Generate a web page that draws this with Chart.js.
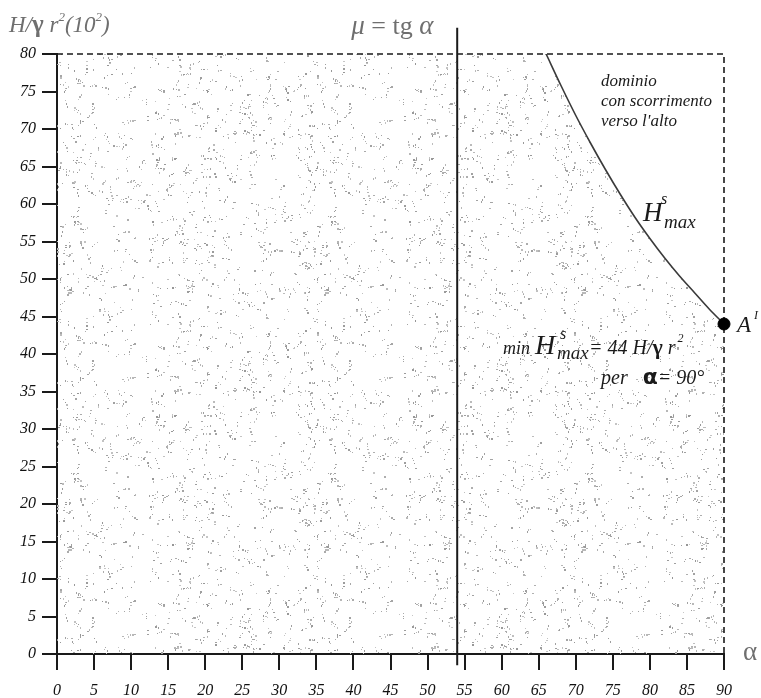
<!DOCTYPE html>
<html>
<head>
<meta charset="utf-8">
<script src="https://cdn.jsdelivr.net/npm/chart.js@4/dist/chart.umd.min.js"></script>
<style>
  html, body { margin: 0; padding: 0; background: #ffffff; }
  #wrap { width: 761px; height: 698px; }
</style>
</head>
<body>
<div id="wrap"><canvas id="c" width="761" height="698"></canvas></div>
<script>
// Axis ranges
const alphaMin = 0, alphaMax = 90, alphaStep = 5;
const hMin = 0, hMax = 80, hStep = 5;

// Friction angle line: mu = tg(alpha)
const frictionAlpha = 54;
const frictionLineSpan = [-1.5, 83.5];

// Upper limit curve H^s_max (alpha in degrees, H / (gamma r^2) in units of 10^2)
const boundaryAlpha = [66, 68, 70, 72, 74, 76, 78, 80, 82, 84, 86, 88, 90];
const boundaryH     = [80, 75.8, 71.8, 68.1, 64.6, 61.3, 58.2, 55.4, 52.8, 50.4, 48.2, 46.0, 44];

// Minimum point A'
const pointAlpha = [90];
const pointH = [44];

// Stippled pattern for the admissible domain
function makeStipple() {
  const size = 257;
  const c = document.createElement('canvas');
  c.width = size; c.height = size;
  const g = c.getContext('2d');
  let s = 98765;
  const next = () => { s = (s * 1103515245 + 12345) & 0x7fffffff; return s / 0x7fffffff; };
  for (let i = 0; i < 720; i++) {
    let x = next() * size, y = next() * size;
    const n = 1 + Math.floor(next() * 2.6);
    const ang = next() * Math.PI * 2;
    for (let k = 0; k < n; k++) {
      const shade = 150 + Math.floor(next() * 50);
      g.fillStyle = 'rgb(' + shade + ',' + shade + ',' + shade + ')';
      const px = ((x % size) + size) % size, py = ((y % size) + size) % size;
      g.fillRect(Math.round(px), Math.round(py), next() < 0.35 ? 2 : 1, next() < 0.35 ? 2 : 1);
      x += Math.cos(ang) * 2.6 + (next() - 0.5) * 1.5;
      y += Math.sin(ang) * 2.6 + (next() - 0.5) * 1.5;
    }
  }
  return g.createPattern(c, 'repeat');
}

const fillPoints = [{ x: alphaMin, y: hMax }].concat(
  boundaryAlpha.map((a, i) => ({ x: a, y: boundaryH[i] }))
);
const curvePoints = boundaryAlpha.map((a, i) => ({ x: a, y: boundaryH[i] }));
const framePoints = [{ x: alphaMin, y: hMax }, { x: alphaMax, y: hMax }, { x: alphaMax, y: hMin }];
const frictionPoints = frictionLineSpan.map(v => ({ x: frictionAlpha, y: v }));
const aPoints = pointAlpha.map((a, i) => ({ x: a, y: pointH[i] }));

const ink = '#1a1a1a';
const grey = '#6f6f6f';
const serif = '"Liberation Serif", "Times New Roman", serif';

function runs(ctx, x, y, list, color) {
  let cx = x;
  list.forEach(r => {
    ctx.font = (r.style || 'italic') + ' ' + (r.weight || 'normal') + ' ' + r.size + 'px ' + (r.family || serif);
    ctx.fillStyle = r.color || color;
    ctx.textBaseline = 'alphabetic';
    ctx.textAlign = 'left';
    if (r.x !== undefined) cx = r.x;
    ctx.fillText(r.t, cx, y + (r.dy || 0));
    cx += ctx.measureText(r.t).width + (r.dx || 0);
  });
}

const annotations = {
  id: 'annotations',
  afterDraw(chart) {
    const ctx = chart.ctx;
    const xs = chart.scales.x, ys = chart.scales.y;
    ctx.save();
    // vertical axis title
    runs(ctx, 9, 32, [
      { t: 'H/', size: 23 },
      { t: 'γ', size: 25, style: 'normal', weight: 'bold' },
      { t: ' r', size: 23 },
      { t: '2', size: 13, dy: -11 },
      { t: '(10', size: 23 },
      { t: '2', size: 13, dy: -11 },
      { t: ')', size: 23 }
    ], grey);
    // friction line label
    const fx = xs.getPixelForValue(frictionAlpha);
    runs(ctx, fx - 106, 34, [
      { t: 'μ', size: 27 },
      { t: ' = tg ', size: 26, style: 'normal' },
      { t: 'α', size: 27 }
    ], grey);
    // horizontal axis title
    runs(ctx, xs.right + 19, ys.bottom + 6, [{ t: 'α', size: 27, style: 'normal' }], grey);
    // domain note
    runs(ctx, 601, 86, [{ t: 'dominio', size: 17 }], ink);
    runs(ctx, 601, 106, [{ t: 'con scorrimento', size: 17 }], ink);
    runs(ctx, 601, 126, [{ t: "verso l'alto", size: 17 }], ink);
    // curve label
    runs(ctx, 643, 221, [{ t: 'H', size: 27 }], ink);
    runs(ctx, 661, 204, [{ t: 's', size: 16 }], ink);
    runs(ctx, 664, 228, [{ t: 'max', size: 19 }], ink);
    // point label
    const px = xs.getPixelForValue(pointAlpha[0]), py = ys.getPixelForValue(pointH[0]);
    runs(ctx, px + 13, py + 8, [{ t: 'A', size: 23 }], ink);
    runs(ctx, px + 30, py - 5, [{ t: 'I', size: 12 }], ink);
    // minimum note
    runs(ctx, 503, 354, [{ t: 'min', size: 18 }], ink);
    runs(ctx, 535, 354, [{ t: 'H', size: 28 }], ink);
    runs(ctx, 560, 339, [{ t: 's', size: 16 }], ink);
    runs(ctx, 557, 359, [{ t: 'max', size: 19 }], ink);
    runs(ctx, 589, 354, [
      { t: '= 44 H/', size: 20 },
      { t: 'γ', size: 22, style: 'normal', weight: 'bold' },
      { t: ' r', size: 20, dx: 2 },
      { t: '2', size: 12, dy: -12 }
    ], ink);
    runs(ctx, 601, 384, [
      { t: 'per', size: 20 },
      { t: '   ', size: 20 },
      { t: 'α', size: 22, style: 'normal', weight: 'bold', family: '"DejaVu Sans", sans-serif' },
      { t: '= 90°', size: 20 }
    ], ink);
    ctx.restore();
  }
};

const tickFont = { family: serif, style: 'italic', size: 16 };

new Chart(document.getElementById('c'), {
  type: 'line',
  data: {
    datasets: [
      { label: 'dominio', data: fillPoints, fill: 'origin', backgroundColor: makeStipple(),
        borderWidth: 0, borderColor: 'rgba(0,0,0,0)', pointRadius: 0, tension: 0.4,
        cubicInterpolationMode: 'monotone', order: 5 },
      { label: 'bordo', data: framePoints, fill: false, borderColor: ink, borderWidth: 1.6,
        borderDash: [6, 4], pointRadius: 0, tension: 0, order: 4, clip: false },
      { label: 'mu', data: frictionPoints, fill: false, borderColor: ink, borderWidth: 2,
        pointRadius: 0, tension: 0, order: 3, clip: false },
      { label: 'Hmax', data: curvePoints, fill: false, borderColor: '#3a3a3a', borderWidth: 1.6,
        pointRadius: 0, tension: 0.4, cubicInterpolationMode: 'monotone', order: 2 },
      { label: 'A', data: aPoints, fill: false, showLine: false, pointRadius: 6,
        pointBackgroundColor: '#000', pointBorderColor: '#000', order: 1, clip: false }
    ]
  },
  options: {
    responsive: false,
    animation: false,
    layout: { padding: { top: 54, right: 37, left: 0, bottom: 0 } },
    plugins: { legend: { display: false }, tooltip: { enabled: false } },
    scales: {
      x: {
        type: 'linear', min: alphaMin, max: alphaMax, z: 1,
        afterFit(scale) { scale.height = 44; },
        border: { display: true, color: ink, width: 2 },
        grid: { drawOnChartArea: false, drawTicks: true, tickLength: 16, color: ink, lineWidth: 2 },
        ticks: { stepSize: alphaStep, color: '#111', font: tickFont, padding: 11, maxRotation: 0, autoSkip: false }
      },
      y: {
        type: 'linear', min: hMin, max: hMax, z: 1,
        afterFit(scale) { scale.width = 57; },
        border: { display: true, color: ink, width: 2 },
        grid: { drawOnChartArea: false, drawTicks: true, tickLength: 15, color: ink, lineWidth: 2 },
        ticks: { stepSize: hStep, color: '#111', font: tickFont, padding: 6, autoSkip: false }
      }
    }
  },
  plugins: [annotations]
});
</script>
</body>
</html>
